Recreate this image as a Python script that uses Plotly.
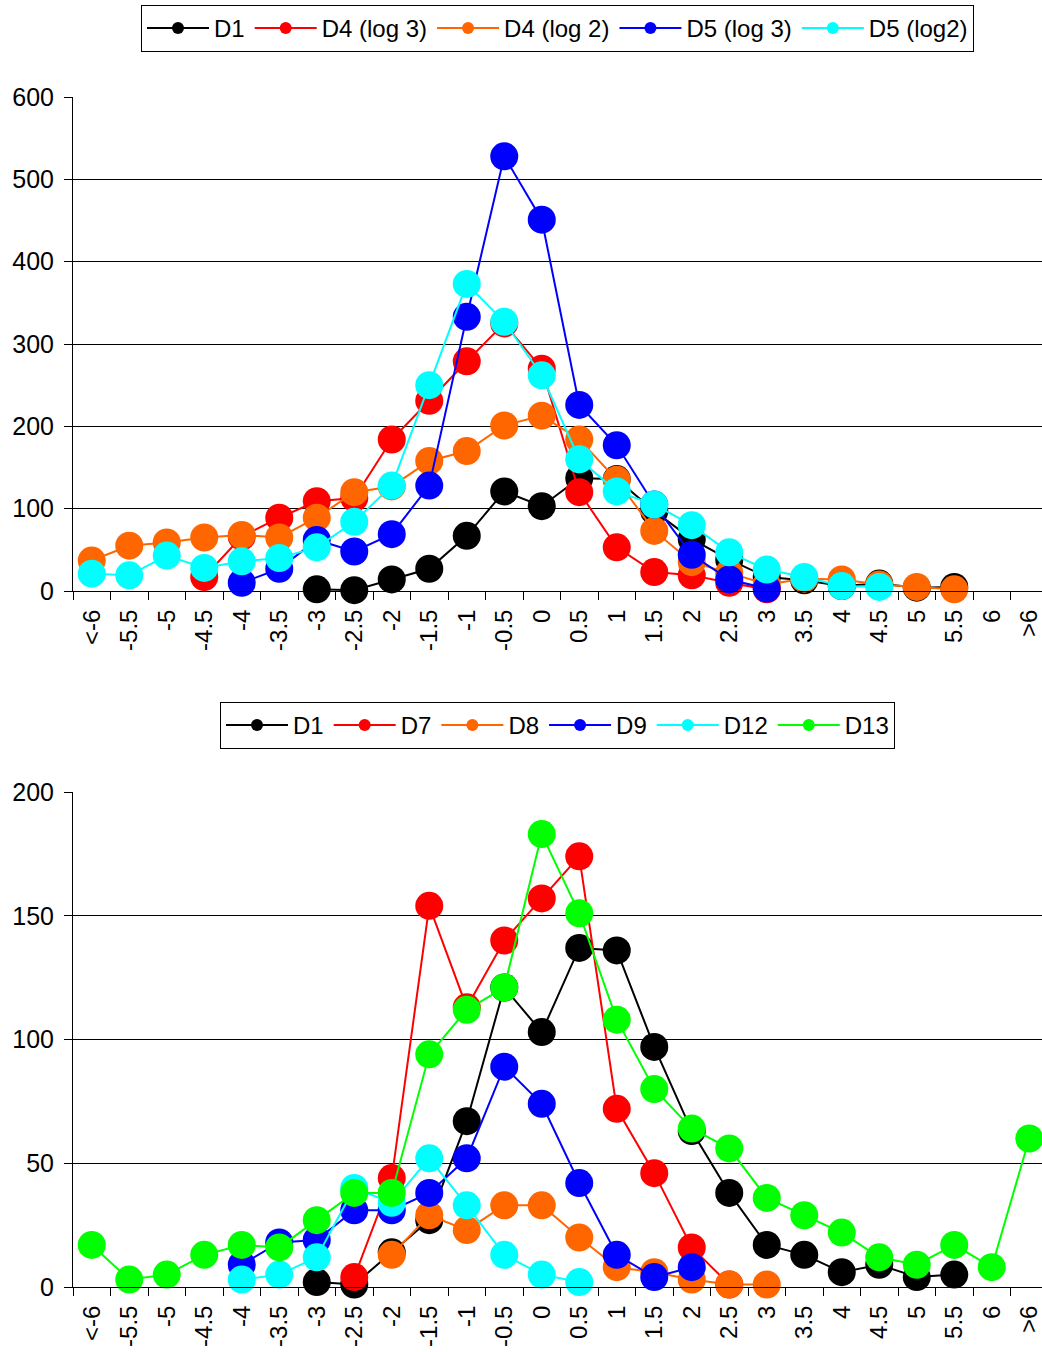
import plotly.graph_objects as go

# ---------------- data ----------------
categories = ["<-6", "-5.5", "-5", "-4.5", "-4", "-3.5", "-3", "-2.5", "-2", "-1.5",
              "-1", "-0.5", "0", "0.5", "1", "1.5", "2", "2.5", "3", "3.5",
              "4", "4.5", "5", "5.5", "6", ">6"]

N = None
# top chart
d1 = [N, N, N, N, N, N, 2, 1, 14, 27, 67, 121, 103, 137, 136, 97, 63, 38, 17, 13, 6, 9, 4, 5, N, N]
d4_log3 = [N, N, N, 17, 66, 89, 109, 113, 184, 231, 279, 325, 270, 120, 53, 23, 19, 10, 2, N, N, N, N, N, N, N]
d4_log2 = [37, 55, 59, 65, 68, 65, 89, 120, 127, 158, 170, 201, 213, 184, 135, 73, 35, 22, 8, 15, 14, 8, 5, 2, N, N]
d5_log3 = [N, N, N, N, 10, 27, 62, 48, 69, 128, 333, 528, 451, 226, 177, 105, 44, 14, 3, N, N, N, N, N, N, N]
d5_log2 = [21, 19, 43, 28, 36, 40, 53, 84, 128, 250, 373, 327, 262, 160, 121, 105, 80, 47, 26, 17, 6, 5, N, N, N, N]

# bottom chart
d7 = [N, N, N, N, N, N, N, 4, 44, 154, 113, 140, 157, 174, 72, 46, 16, 1, N, N, N, N, N, N, N, N]
d8 = [N, N, N, N, N, N, N, N, 13, 29, 23, 33, 33, 20, 8, 6, 3, 1, 1, N, N, N, N, N, N, N]
d9 = [N, N, N, N, 9, 18, 19, 31, 31, 38, 52, 89, 74, 42, 13, 4, 8, N, N, N, N, N, N, N, N, N]
d12 = [N, N, N, N, 3, 5, 12, 40, 34, 52, 33, 13, 5, 2, N, N, N, N, N, N, N, N, N, N, N, N]
d13 = [17, 3, 5, 13, 17, 16, 27, 38, 38, 94, 112, 121, 183, 151, 108, 80, 64, 56, 36, 29, 22, 12, 9, 17, 8, 60]

top_names = ["D1", "D4 (log 3)", "D4 (log 2)", "D5 (log 3)", "D5 (log2)"]
top_series = [d1, d4_log3, d4_log2, d5_log3, d5_log2]
top_colors = ["#000000", "#FF0000", "#FF6600", "#0000FF", "#00FFFF"]

bot_names = ["D1", "D7", "D8", "D9", "D12", "D13"]
bot_series = [d1, d7, d8, d9, d12, d13]
bot_colors = ["#000000", "#FF0000", "#FF6600", "#0000FF", "#00FFFF", "#00FF00"]

W, H = 1042, 1352
FONT = "Liberation Sans, Arial, sans-serif"

fig = go.Figure()

def add_group(names, series, colors, xa, ya, legend):
    for name, ys, col in zip(names, series, colors):
        fig.add_trace(go.Scatter(
            x=categories, y=ys, name=name, mode="lines+markers",
            line=dict(color=col, width=2),
            marker=dict(color=col, size=28, line=dict(width=0)),
            cliponaxis=False, connectgaps=False, showlegend=False,
            xaxis=xa, yaxis=ya))
    for name, col in zip(names, colors):
        fig.add_trace(go.Scatter(
            x=[None], y=[None], name=name, mode="lines+markers",
            line=dict(color=col, width=2),
            marker=dict(color=col, size=12),
            showlegend=True, legend=legend, xaxis=xa, yaxis=ya))

add_group(top_names, top_series, top_colors, "x", "y", "legend")
add_group(bot_names, bot_series, bot_colors, "x2", "y2", "legend2")

def py(px):
    return 1 - px / H

xrange_ = [-0.5, 25.34]
xcommon = dict(type="category", range=xrange_, showline=True, linecolor="black", linewidth=1,
               ticks="outside", ticklen=8, tickcolor="black", tickson="boundaries",
               tickangle=-90, showgrid=False, zeroline=False, ticklabelstandoff=8,
               tickfont=dict(family=FONT, size=24, color="black"), automargin=False,
               categoryorder="array", categoryarray=categories)
ycommon = dict(showline=True, linecolor="black", linewidth=1, ticks="outside", ticklen=8,
               tickcolor="black", showgrid=True, gridcolor="black", gridwidth=1,
               zeroline=False, tickfont=dict(family=FONT, size=25, color="black"),
               ticklabelstandoff=5, automargin=False)

leg_common = dict(orientation="h", x=0.5, xanchor="center", yanchor="top",
                  bordercolor="black", borderwidth=1, bgcolor="white",
                  font=dict(family=FONT, size=24, color="black"), itemwidth=62)

fig.update_layout(
    width=W, height=H,
    margin=dict(l=73, r=0, t=0, b=0, autoexpand=False),
    paper_bgcolor="white", plot_bgcolor="white",
    font=dict(family=FONT, size=24, color="black"),
    xaxis=dict(anchor="y", domain=[0, 1], **xcommon),
    yaxis=dict(anchor="x", domain=[py(591), py(97)], range=[0, 600], dtick=100, **ycommon),
    xaxis2=dict(anchor="y2", domain=[0, 1], **xcommon),
    yaxis2=dict(anchor="x2", domain=[py(1287), py(792)], range=[0, 200], dtick=50, **ycommon),
    legend=dict(y=py(5), **leg_common),
    legend2=dict(y=py(702), **leg_common),
    showlegend=True,
)

fig.write_html("out.html")
